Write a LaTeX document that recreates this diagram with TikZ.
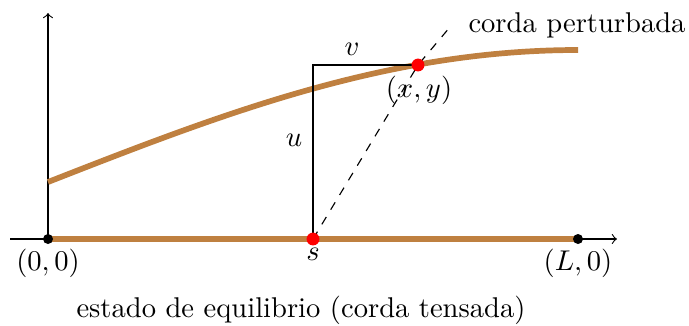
\documentclass[tikz,border=0pt]{standalone}
\begin{document}
\begin{tikzpicture}[x=0.35pt,y=-0.35pt,
  stringline/.style={draw=brown, line width=2pt},
  reddot/.style={circle, fill=red, inner sep=0pt, minimum size=4.5pt},
  blackdot/.style={circle, fill=black, inner sep=0pt, minimum size=3.5pt},
  lbl/.style={inner sep=1pt}]
\useasboundingbox (0,0) rectangle (689,325);
% axes
\coordinate (xl) at (10,239);
\coordinate (xr) at (617,239);
\coordinate (yt) at (48,13);
\coordinate (O) at (48,239);
\coordinate (Lp) at (578,239);
\coordinate (S) at (313,239);
\coordinate (P) at (418,65);
\coordinate (corner) at (313,65);
\coordinate (dashend) at (450,27);
\coordinate (c0) at (48,182);
\coordinate (c1) at (578,50);
\draw[->] (xl) -- (xr);
\draw[->] (O) -- (yt);
% strings
\draw[stringline] (O) -- (Lp);
\draw[stringline] (c0) sin (c1);
% construction lines
\draw (S) -- (corner) -- (P);
\draw[dashed] (S) -- (P) -- (dashend);
% dots
\node[blackdot] (Odot) at (O) {};
\node[blackdot] (Ldot) at (Lp) {};
\node[reddot] (sdot) at (S) {};
\node[reddot] (Pdot) at (P) {};
% labels
\node[lbl] (lv) at (352,49) {$v$};
\node[lbl] (lu) at (294,140) {$u$};
\node[lbl] (lxy) at (419,90) {$(x,y)$};
\node[lbl] (ls) at (313,254) {$s$};
\node[lbl] (l00) at (48,263) {$(0,0)$};
\node[lbl] (lL0) at (578,263) {$(L,0)$};
\node[lbl] (lcp) at (577,25) {corda perturbada};
\node[lbl] (leq) at (301,310) {estado de equilibrio (corda tensada)};
\end{tikzpicture}
\end{document}
